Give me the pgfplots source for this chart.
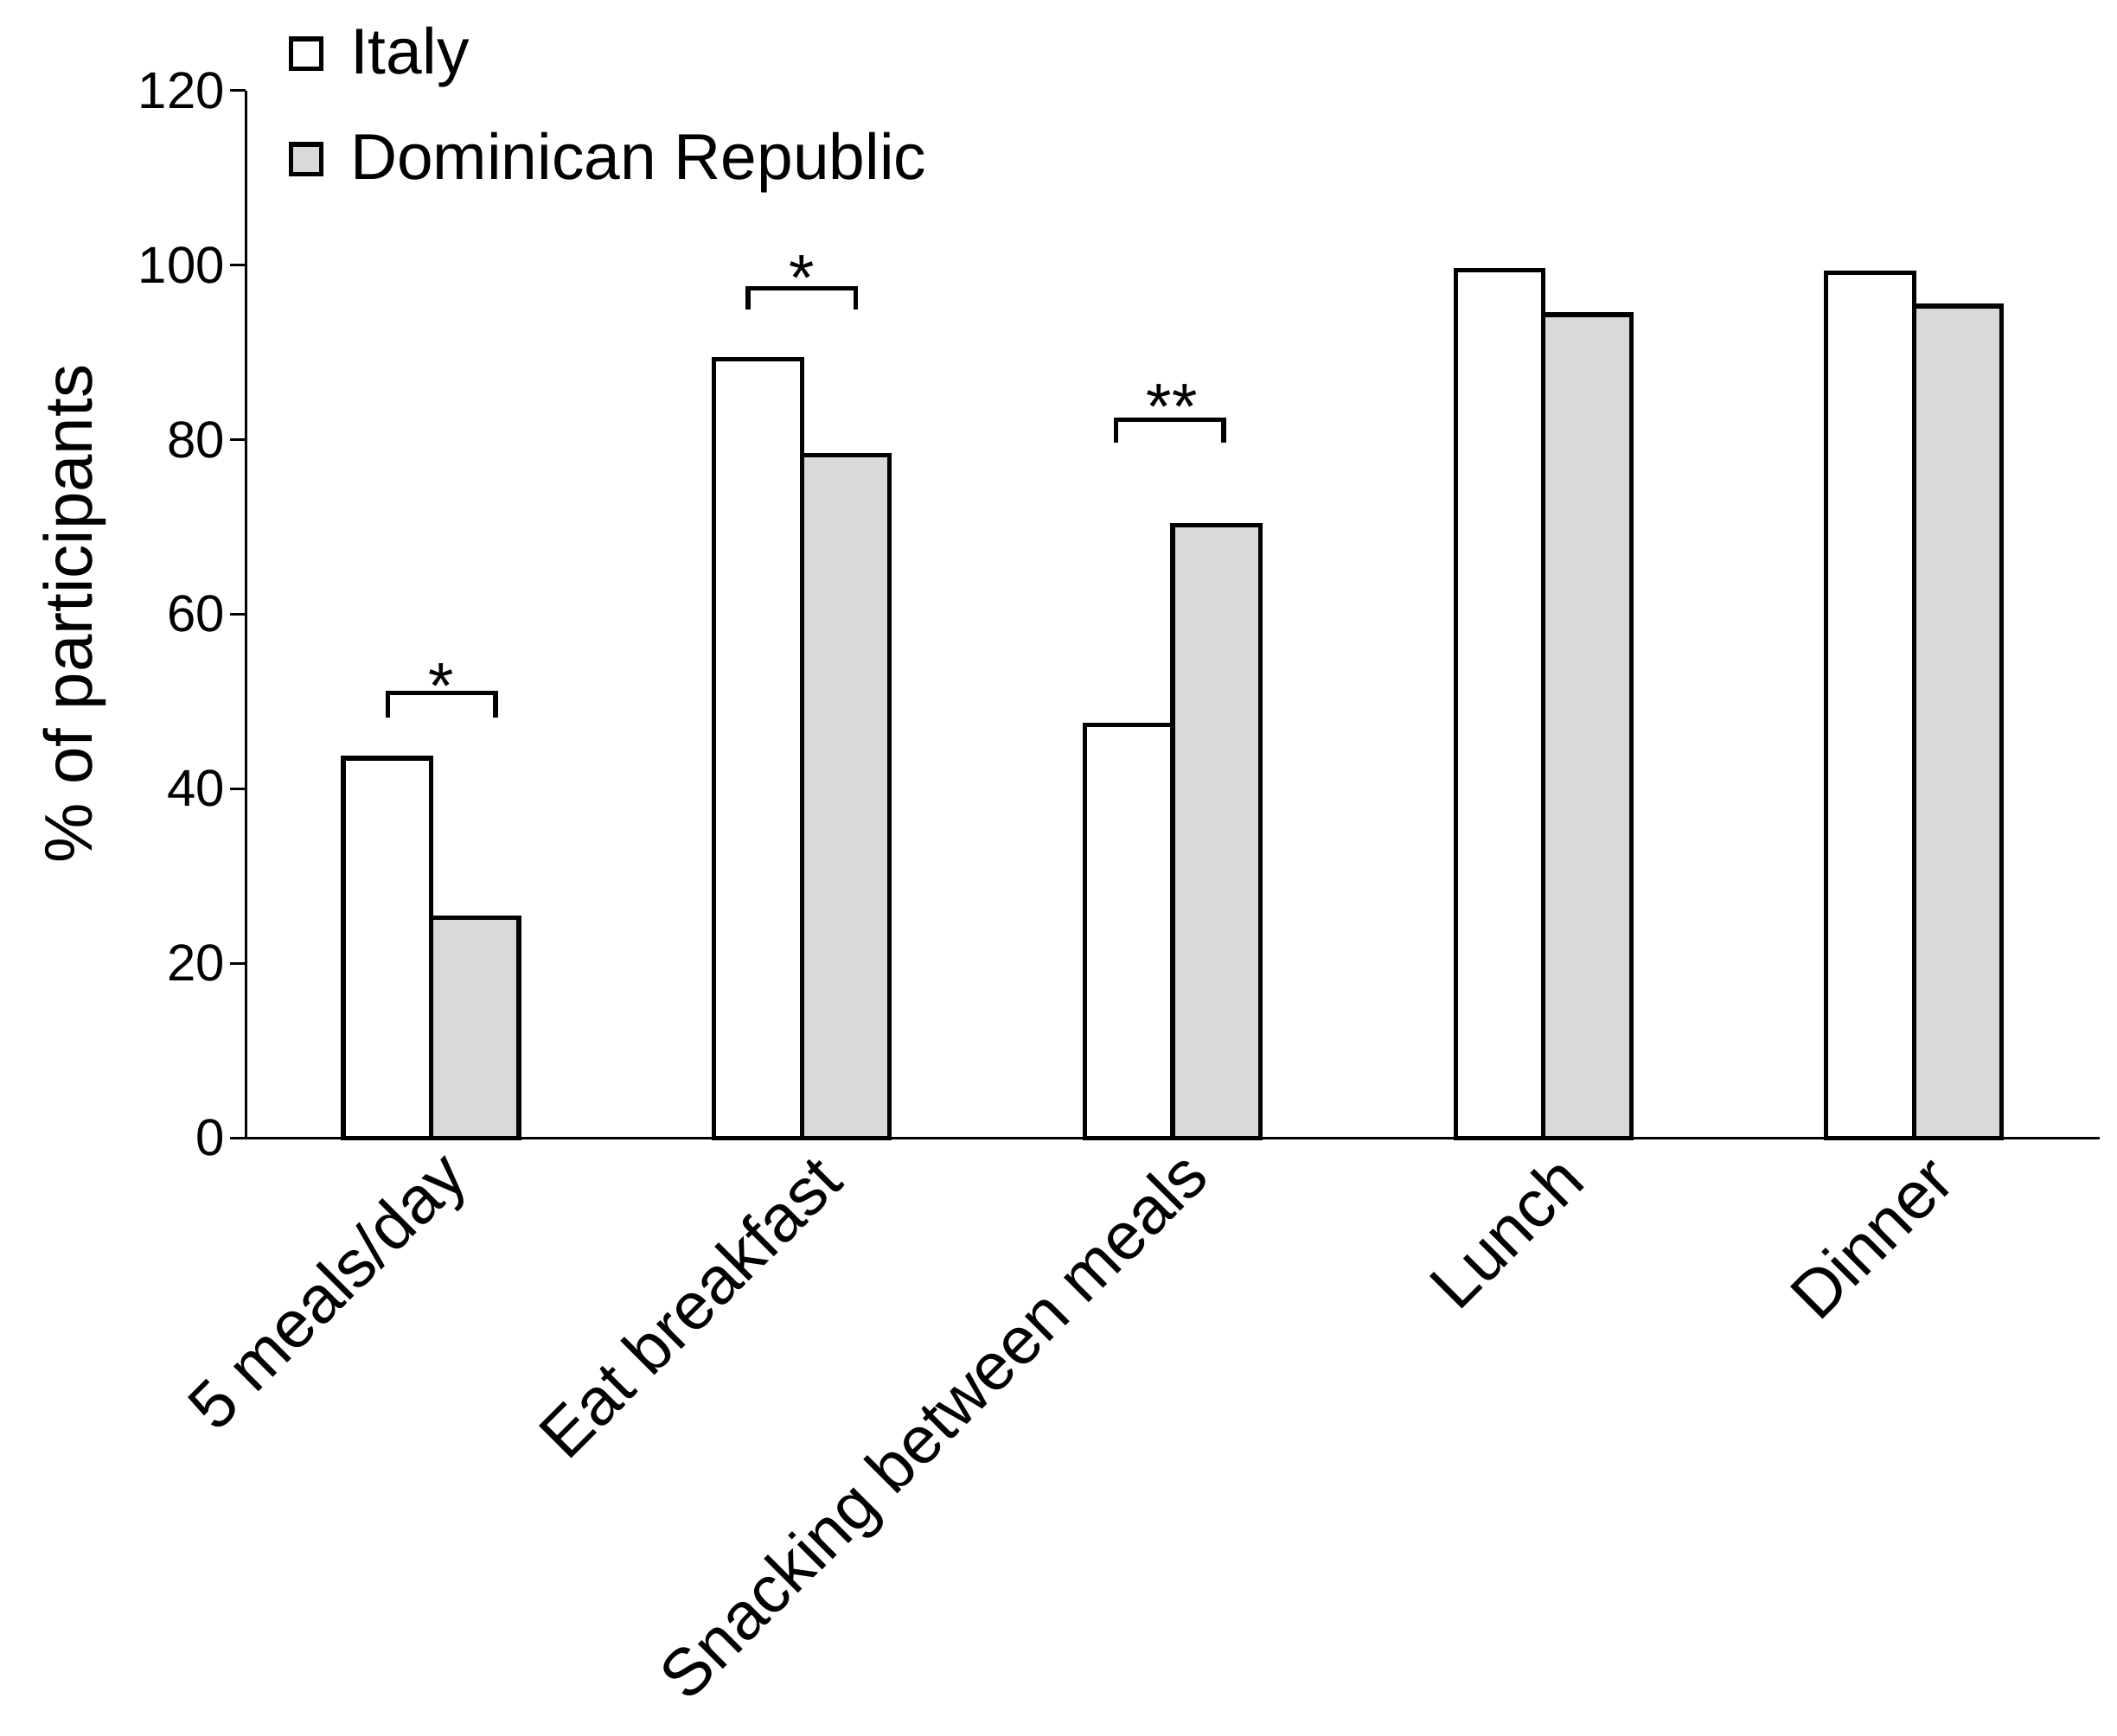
\documentclass[border=0pt]{standalone}
\usepackage{fontspec}
\setmainfont{Liberation Sans}
\usepackage{pgfplots}
\pgfplotsset{compat=1.18}
\definecolor{drgray}{HTML}{D9D9D9}
\begin{document}
\begin{tikzpicture}
\begin{axis}[
  name=ax,
  width=411.9bp, height=232.8bp, scale only axis,
  xmin=-0.5, xmax=4.5, ymin=0, ymax=120,
  axis lines*=left,
  axis line style={line width=0.6bp, black},
  ytick={0,20,...,120},
  xtick={0,1,2,3,4},
  xticklabels={5 meals/day, Eat breakfast, Snacking between meals, Lunch, Dinner},
  xtick style={draw=none},
  tick align=outside,
  major tick length=3.5bp,
  ytick style={line width=0.6bp, black},
  /pgf/number format/assume math mode=true,
  yticklabel style={font=\fontsize{11.5bp}{13bp}\selectfont, inner sep=1bp},
  xticklabel style={font=\fontsize{14.8bp}{17bp}\selectfont, rotate=45, anchor=east, xshift=5.5bp, yshift=-6.5bp},
  ylabel={\% of participants},
  ylabel style={font=\fontsize{15bp}{17bp}\selectfont, at={(axis description cs:-0.0748,0.5)}, anchor=south, inner sep=0pt},
  clip=false,
  legend cell align=left,
  legend style={at={(0.0229,1.0615)}, anchor=north west, draw=none, fill=none,
    inner sep=0pt, row sep=11.5bp, column sep=6bp,
    font=\fontsize{14.4bp}{16bp}\selectfont, nodes={inner sep=0pt}},
]
\addplot[ybar, bar width=0.2368, bar shift=-0.1184, draw=black, line width=1bp, fill=white,
  legend image code/.code={\draw[draw=black, line width=1bp, fill=white] (0bp,-3.3bp) rectangle (6.6bp,3.3bp);}]
  coordinates {(0,43.5) (1,89.2) (2,47.3) (3,99.4) (4,99.1)};
\addplot[ybar, bar width=0.2368, bar shift=0.1184, draw=black, line width=1bp, fill=drgray,
  legend image code/.code={\draw[draw=black, line width=1bp, fill=drgray] (0bp,-3.3bp) rectangle (6.6bp,3.3bp);}]
  coordinates {(0,25.2) (1,78.2) (2,70.2) (3,94.3) (4,95.3)};
\legend{Italy, Dominican Republic}
% significance brackets
\draw[line width=1bp] (axis cs:-0.117,48.15) |- (axis cs:0.174,50.95) -- (axis cs:0.174,48.15);
\draw[line width=1bp] (axis cs:0.855,94.87) |- (axis cs:1.146,97.34) -- (axis cs:1.146,94.87);
\draw[line width=1bp] (axis cs:1.848,79.69) |- (axis cs:2.138,82.31) -- (axis cs:2.138,79.69);
\node[anchor=north, inner sep=0pt, font=\fontsize{14.5bp}{16bp}\selectfont] at (axis cs:0.027,54.4) {*};
\node[anchor=north, inner sep=0pt, font=\fontsize{14.5bp}{16bp}\selectfont] at (axis cs:0.999,101.2) {*};
\node[anchor=north, inner sep=0pt, font=\fontsize{14.5bp}{16bp}\selectfont] at (axis cs:1.998,86.45) {**};
\end{axis}
\pgfresetboundingbox
\path ([shift={(-54.6bp,-132.9bp)}]ax.south west) rectangle ([shift={(415.8bp,252.9bp)}]ax.south west);
\end{tikzpicture}
\end{document}
